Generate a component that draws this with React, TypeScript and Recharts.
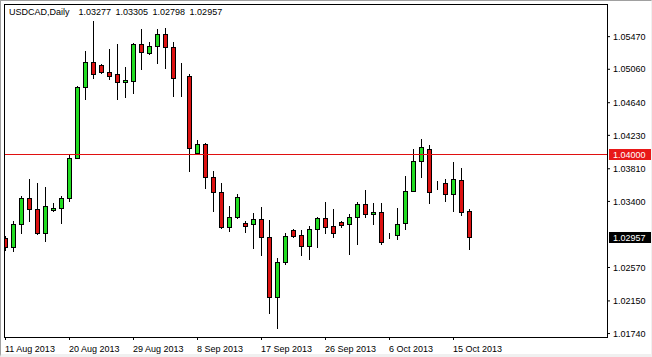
import React from "react";
import { ComposedChart, Bar, XAxis, YAxis, ReferenceLine } from "recharts";

const FONT = "'Liberation Sans', Arial, sans-serif";
const BULL = "#22dd22";
const BEAR = "#dd1111";

// daily candles, 11 Aug 2013 .. 17 Oct 2013
const opens = [
  1.0294, 1.02827, 1.03116, 1.03443, 1.03305, 1.03003, 1.03292, 1.03317, 1.03443, 1.03945,
  1.04837, 1.05151, 1.05114, 1.05026, 1.05001, 1.049, 1.04913, 1.05378, 1.05265, 1.05352,
  1.05503, 1.0534, 1.04963, 1.04976, 1.04008, 1.04121, 1.03707, 1.03518, 1.03079, 1.03204,
  1.03129, 1.03116, 1.03179, 1.02953, 1.02199, 1.02639, 1.03041, 1.02978, 1.0284, 1.03053,
  1.03192, 1.03091, 1.03141, 1.03116, 1.03204, 1.03368, 1.03242, 1.03267, 1.02966, 1.02978,
  1.03129, 1.03531, 1.03908, 1.04058, 1.03631, 1.03631, 1.03493, 1.03669, 1.03277,
];
const highs = [
  1.02966, 1.03154, 1.03468, 1.03682, 1.03631, 1.03581, 1.0338, 1.03468, 1.03996, 1.0485,
  1.0529, 1.05667, 1.05126, 1.05315, 1.05378, 1.05089, 1.0539, 1.05566, 1.05403, 1.05566,
  1.05579, 1.05403, 1.05139, 1.05001, 1.04172, 1.04134, 1.03782, 1.03631, 1.03342, 1.03493,
  1.03154, 1.03254, 1.0333, 1.03167, 1.02689, 1.03003, 1.03053, 1.03041, 1.03091, 1.03204,
  1.03393, 1.03305, 1.03154, 1.03242, 1.03393, 1.03543, 1.0338, 1.0338, 1.03003, 1.03317,
  1.03719, 1.04058, 1.04184, 1.04109, 1.03656, 1.03682, 1.03895, 1.0382, 1.03305,
];
const lows = [
  1.0279, 1.02777, 1.03003, 1.03154, 1.02991, 1.02903, 1.0328, 1.03129, 1.03405, 1.0394,
  1.04687, 1.0495, 1.05013, 1.04938, 1.04687, 1.04712, 1.04762, 1.05064, 1.05252, 1.05139,
  1.05076, 1.04724, 1.04724, 1.03782, 1.04, 1.03569, 1.0328, 1.03066, 1.03028, 1.03192,
  1.03016, 1.02815, 1.02727, 1.01998, 1.0181, 1.02614, 1.02953, 1.02727, 1.02677, 1.02827,
  1.03003, 1.02953, 1.03079, 1.02739, 1.02865, 1.03204, 1.03116, 1.02865, 1.0294, 1.02928,
  1.03053, 1.03525, 1.03707, 1.0338, 1.03556, 1.03405, 1.0328, 1.03229, 1.02798,
];
const closes = [
  1.02827, 1.03116, 1.03443, 1.03305, 1.03003, 1.03342, 1.03317, 1.03443, 1.03945, 1.04837,
  1.05151, 1.05001, 1.05026, 1.04976, 1.049, 1.04925, 1.05378, 1.05277, 1.05352, 1.05503,
  1.0534, 1.0495, 1.0496, 1.04071, 1.04121, 1.03707, 1.03518, 1.03079, 1.03204, 1.03456,
  1.03091, 1.03179, 1.02953, 1.02199, 1.02639, 1.02966, 1.02966, 1.0284, 1.03053, 1.03192,
  1.03079, 1.03003, 1.03104, 1.03204, 1.03368, 1.03242, 1.03267, 1.0289, 1.02966, 1.03116,
  1.03531, 1.03908, 1.04084, 1.03518, 1.03628, 1.03493, 1.03682, 1.03267, 1.02957,
];

const dateTickIndex = [0, 8, 16, 24, 32, 40, 48, 56];
const dateLabels = [
  "11 Aug 2013", "20 Aug 2013", "29 Aug 2013", "8 Sep 2013",
  "17 Sep 2013", "26 Sep 2013", "6 Oct 2013", "15 Oct 2013",
];
const priceTicks = [1.0547, 1.0506, 1.0464, 1.0423, 1.0381, 1.034, 1.0257, 1.0215, 1.0174];
const levelLine = 1.04;
const lastPrice = 1.02957;

const data = opens.map((open, i) => ({
  i,
  open,
  high: highs[i],
  low: lows[i],
  close: closes[i],
  range: [lows[i], highs[i]],
}));

const Candle = (props: any) => {
  const { x, y, width, height, payload } = props;
  const { open, close, high, low } = payload;
  const k = height / (high - low);
  const py = (p: number) => y + (high - p) * k;
  const cx = Math.floor(x + width / 2) + 0.5;
  const top = Math.round(py(Math.max(open, close))) + 0.5;
  const bot = Math.round(py(Math.min(open, close))) + 0.5;
  return (
    <g>
      <line x1={cx} x2={cx} y1={Math.round(y)} y2={Math.round(y + height) + 1} stroke="#000" />
      <rect x={cx - 2} y={top} width={4} height={bot - top} fill={close >= open ? BULL : BEAR} stroke="#000" />
    </g>
  );
};

const DateTick = ({ x, y, payload }: any) => {
  const label = dateLabels[dateTickIndex.indexOf(payload.value)];
  return (
    <text x={x - 0.5} y={y + 10} textAnchor="start" fontSize={9} fontFamily={FONT} fill="#000">
      {label}
    </text>
  );
};

// the level line and its tag on the price scale
const PriceTag = ({ viewBox, text, bg, line }: any) => {
  if (!viewBox) return null;
  const x = viewBox.x + viewBox.width + 2;
  const y = Math.round(viewBox.y);
  return (
    <g>
      {line && (
        <line x1={viewBox.x} x2={viewBox.x + viewBox.width} y1={y + 0.5} y2={y + 0.5} stroke={line} />
      )}
      <rect x={x} y={y - 5} width={44} height={11} fill={bg} />
      <text x={x + 4} y={y + 4} fontSize={9} fontFamily={FONT} fill="#fff">
        {text}
      </text>
    </g>
  );
};

export default function App() {
  return (
    <div style={{ position: "absolute", left: 0, top: 0, width: 652, height: 357, background: "#fff" }}>
      <ComposedChart width={652} height={357} data={data} margin={{ top: 4, right: 0, bottom: 0, left: 4 }}>
        <XAxis
          dataKey="i"
          type="number"
          domain={[-0.1875, 75.1875]}
          ticks={dateTickIndex}
          interval={0}
          allowDataOverflow
          axisLine={false}
          tickSize={3}
          tickLine={{ stroke: "#000" }}
          tick={<DateTick />}
          height={20}
        />
        <YAxis
          orientation="right"
          type="number"
          domain={[1.016967, 1.058801]}
          allowDataOverflow
          ticks={priceTicks}
          interval={0}
          tickFormatter={(v: number) => v.toFixed(5)}
          width={45}
          axisLine={false}
          tickSize={3}
          tickMargin={3}
          tickLine={{ stroke: "#000" }}
          tick={{ fill: "#000", fontSize: 9, fontFamily: FONT }}
        />
        <Bar dataKey="range" barSize={5} shape={Candle} isAnimationActive={false} />
        <ReferenceLine
          y={levelLine}
          stroke="none"
          label={<PriceTag text={levelLine.toFixed(5)} bg="#e81818" line="#e01010" />}
        />
        <ReferenceLine
          y={lastPrice}
          stroke="none"
          label={<PriceTag text={lastPrice.toFixed(5)} bg="#000" />}
        />
      </ComposedChart>
      <div
        style={{
          position: "absolute", left: 4, top: 4, width: 604, height: 334,
          border: "1px solid #000", boxSizing: "border-box", pointerEvents: "none",
        }}
      />
      <div
        style={{
          position: "absolute", left: 9, top: 7, fontSize: 9, lineHeight: "11px",
          fontFamily: FONT, whiteSpace: "pre", wordSpacing: 2, color: "#000",
        }}
      >
        {"USDCAD,Daily  1.03277 1.03305 1.02798 1.02957"}
      </div>
      <div
        style={{
          position: "absolute", left: 0, top: 0, width: 652, height: 357, boxSizing: "border-box",
          borderTop: "1px solid #a0a0a0", borderLeft: "1px solid #a0a0a0",
          borderBottom: "3px solid #f0f0f0", borderRight: "1px solid #f0f0f0", pointerEvents: "none",
        }}
      />
    </div>
  );
}
